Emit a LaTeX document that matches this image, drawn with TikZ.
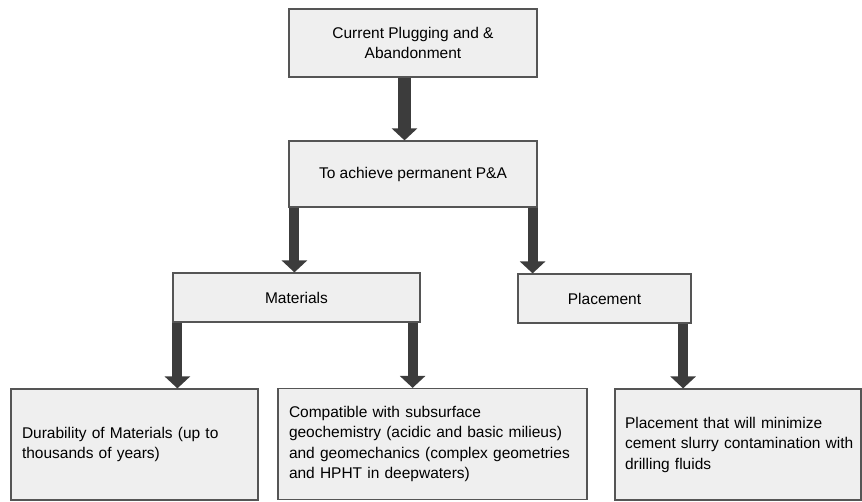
\documentclass[tikz,border=0pt]{standalone}
\usepackage{fontspec}
\setmainfont{Liberation Sans}
\usetikzlibrary{arrows.meta}
\definecolor{boxfill}{HTML}{EFEFEF}
\definecolor{boxline}{HTML}{555555}
\definecolor{arrowfill}{HTML}{3C3C3C}
\tikzset{
  box/.style={draw=boxline, fill=boxfill, line width=1.2pt, inner xsep=11pt,
    font=\fontsize{15.5}{20.5}\selectfont, align=center},
  leaf/.style={box, align=left, minimum height=111pt},
  fat/.style={draw=arrowfill, line width=10pt,
    -{Triangle[length=12pt,width=25pt]}}
}
\begin{document}
\begin{tikzpicture}[x=1pt,y=-1pt]
\useasboundingbox (0,0) rectangle (862,502);
\node[box, minimum width=248pt, minimum height=68pt] (top) at (413,43) {Current Plugging and \&\\Abandonment};
\node[box, minimum width=248pt, minimum height=66pt] (aim) at (413,174) {To achieve permanent P\&A};
\node[box, minimum width=247pt, minimum height=49pt] (mat) at (296.5,297.5) {Materials};
\node[box, minimum width=173pt, minimum height=49pt] (plc) at (604.5,298.5) {Placement};
\node[leaf, text width=225pt] (dur) at (134.5,444.5) {Durability of Materials (up to\\thousands of years)};
\node[leaf, text width=287pt] (cmp) at (432.5,444) {Compatible with subsurface\\geochemistry (acidic and basic milieus)\\and geomechanics (complex geometries\\and HPHT in deepwaters)};
\node[leaf, text width=236pt, inner xsep=5pt] (fld) at (738,444.5) {\hspace*{5pt}Placement that will minimize\\\hspace*{5pt}cement slurry contamination with\\\hspace*{5pt}drilling fluids};
\draw[fat, line width=13pt] ([xshift=-8.5pt]top.south) -- ([xshift=-8.5pt]top.south |- aim.north);
\draw[fat] ([xshift=6pt]aim.south west) -- ([xshift=6pt]aim.south west |- mat.north);
\draw[fat] ([xshift=-5pt]aim.south east) -- ([xshift=-5pt]aim.south east |- plc.north);
\draw[fat] ([xshift=5pt]mat.south west) -- ([xshift=5pt]mat.south west |- dur.north);
\draw[fat] ([xshift=-8pt]mat.south east) -- ([xshift=-8pt]mat.south east |- cmp.north);
\draw[fat] ([xshift=-8.5pt]plc.south east) -- ([xshift=-8.5pt]plc.south east |- fld.north);
\end{tikzpicture}
\end{document}
